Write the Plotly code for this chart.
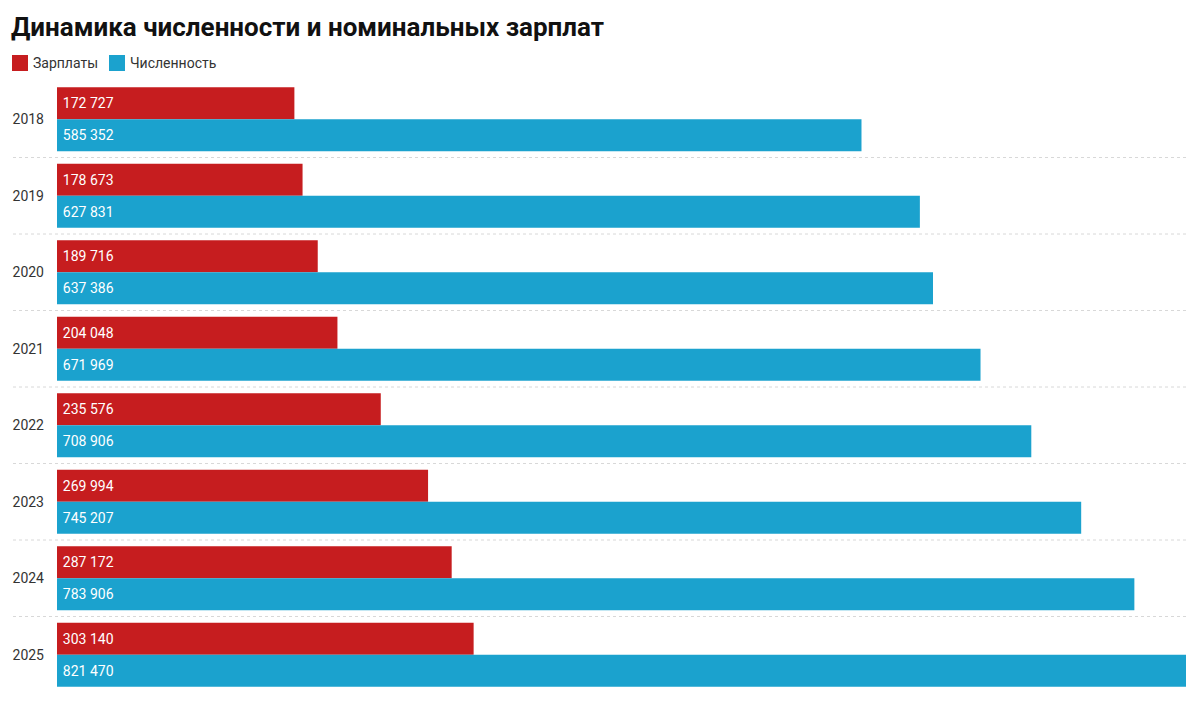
import plotly.graph_objects as go

years = [2018, 2019, 2020, 2021, 2022, 2023, 2024, 2025]
salaries = [172727, 178673, 189716, 204048, 235576, 269994, 287172, 303140]
headcount = [585352, 627831, 637386, 671969, 708906, 745207, 783906, 821470]
series_names = ["Зарплаты", "Численность"]

RED = "#c61d1f"
BLUE = "#1ba2ce"

W, H = 1200, 708
L, R, T, B = 57, 14, 81, 15
PW, PH = W - L - R, H - T - B


def px_x(p):
    return (p - L) / PW


def px_y(p):
    return (H - B - p) / PH


fig = go.Figure()
for vals, name, color in [(salaries, series_names[0], RED), (headcount, series_names[1], BLUE)]:
    fig.add_trace(go.Bar(
        y=years, x=vals, name=name, orientation="h",
        marker=dict(color=color, line=dict(width=0)),
        texttemplate="\u2009%{x:,}", textposition="inside", insidetextanchor="start",
        textfont=dict(color="white", size=14, family="Roboto"),
        hoverinfo="skip", showlegend=False,
    ))

# пунктирные разделители между годами
for i in range(len(years) - 1):
    fig.add_shape(
        type="line", xref="paper", yref="y",
        x0=px_x(13), x1=px_x(1187), y0=years[i] + 0.5, y1=years[i] + 0.5,
        line=dict(color="#d8d8d8", width=1, dash="dot"),
    )

# легенда вручную: квадраты 16px и подписи
legend_items = [(12, series_names[0], RED), (109, series_names[1], BLUE)]
for x0, name, color in legend_items:
    fig.add_shape(
        type="rect", xref="paper", yref="paper",
        x0=px_x(x0), x1=px_x(x0 + 16), y0=px_y(71), y1=px_y(55),
        fillcolor=color, line=dict(width=0),
    )
    fig.add_annotation(
        xref="paper", yref="paper", x=px_x(x0 + 19), y=px_y(63),
        xanchor="left", yanchor="middle", text=name, showarrow=False,
        font=dict(size=14, color="#333", family="Roboto"),
    )

fig.update_layout(
    width=W, height=H,
    paper_bgcolor="white", plot_bgcolor="white",
    margin=dict(l=L, r=R, t=T, b=B, autoexpand=False),
    barmode="group", bargap=0.165, bargroupgap=0,
    separators=", ",
    font=dict(family="Roboto", size=14, color="#333"),
    title=dict(
        text="<b>Динамика численности и номинальных зарплат</b>",
        font=dict(family="Roboto", size=26, color="#111"),
        xref="container", x=11 / W, xanchor="left",
        yref="container", y=1 - 27 / H, yanchor="middle",
        pad=dict(l=0, r=0, t=0, b=0),
    ),
    showlegend=False,
)
fig.update_xaxes(
    range=[0, max(headcount)], showgrid=False, zeroline=False,
    showticklabels=False, showline=False, automargin=False,
)
fig.update_yaxes(
    range=[years[-1] + 0.5, years[0] - 0.5], tickmode="array", tickvals=years,
    ticktext=[str(y) for y in years], showgrid=False, zeroline=False,
    showline=False, ticks="", ticklabelstandoff=12, automargin=False,
    tickfont=dict(size=14, color="#333"),
)

fig.write_html(
    "out.html",
    config={"displayModeBar": False},
    post_script="document.body.style.margin='0';",
)
